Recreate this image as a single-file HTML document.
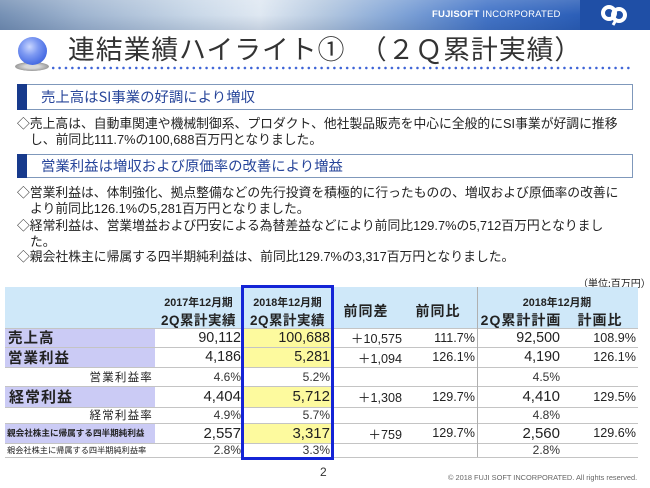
<!DOCTYPE html>
<html><head><meta charset="utf-8">
<style>
*{margin:0;padding:0;box-sizing:border-box}
body{width:650px;height:488px;overflow:hidden;background:#fff;position:relative;font-family:"Liberation Sans","Noto Sans CJK JP",sans-serif;color:#222}
.a{position:absolute}
.banner{left:0;top:0;width:650px;height:30px;background:linear-gradient(90deg,#7590b4 0%,#9db3cf 12%,#c9d8e8 30%,#dfe8f2 40%,#b4c8e0 50%,#7ea2d6 62%,#4475c8 75%,#2c5fb8 89%)}
.banner2{left:0;top:0;width:580px;height:30px;background:linear-gradient(180deg,rgba(255,255,255,0.15),rgba(255,255,255,0) 50%,rgba(0,30,80,0.12))}
.logobox{left:580px;top:0;width:70px;height:30px;background:#1f4fa6}
.fuji{left:432px;top:9px;font-size:9.5px;color:#fff;letter-spacing:0.2px;white-space:nowrap}
.title{left:68px;top:30px;font-size:26.8px;line-height:36px;color:#333;white-space:nowrap;font-family:"Noto Sans CJK JP",sans-serif;font-weight:400;letter-spacing:1px}
.dots{left:50px;top:66px;width:582px;height:4px;background-image:radial-gradient(circle,#3d63d6 1.1px,transparent 1.5px);background-size:6.4px 4px}
.box{left:17px;width:616px;border:1px solid #7f98bb;background:#fff}
.bar{left:17px;width:10px;background:#173a8c}
.sh{left:41px;font-size:14.4px;color:#27459a;white-space:nowrap;font-family:"Noto Sans CJK JP",sans-serif}
.tx{left:17px;font-size:12.8px;color:#222;white-space:nowrap;line-height:16px;font-family:"Liberation Sans","Noto Sans CJK JP",sans-serif}
.cell{position:absolute;display:flex;align-items:center;white-space:nowrap}
.r{justify-content:flex-end}
.c{justify-content:center}
.big{font-size:14.3px}
.mid{font-size:12.6px}
.pct{font-size:12px;color:#333}
.lab{font-family:"Noto Sans CJK JP",sans-serif;font-weight:700;font-size:14.5px;letter-spacing:1px}
.rl{font-family:"Noto Sans CJK JP",sans-serif;font-size:11.5px;letter-spacing:1.2px}
.hl{position:absolute;left:5px;width:633px;height:1px;background:#c4c4c4}
</style></head><body>
<div class="a banner"></div>
<div class="a banner2"></div>
<div class="a logobox"></div>
<div class="a fuji"><b>FUJISOFT</b> INCORPORATED</div>
<svg class="a" style="left:600px;top:4px" width="28" height="22" viewBox="0 0 28 22">
<circle cx="9" cy="9" r="6" fill="none" stroke="#fff" stroke-width="4"/>
<circle cx="19" cy="11" r="6" fill="none" stroke="#fff" stroke-width="4"/>
<path d="M16 16 L13 21" stroke="#fff" stroke-width="3"/>
</svg>

<!-- title bullet -->
<div class="a" style="left:15px;top:62px;width:34px;height:9px;border-radius:50%;background:radial-gradient(ellipse,#d8d8d8 30%,#9a9a9a 70%,transparent 72%)"></div>
<div class="a" style="left:18px;top:37px;width:29px;height:28px;border-radius:50%;background:radial-gradient(circle at 40% 35%,#c9d6ff 0%,#7d99f2 35%,#4a6ee4 70%,#2f52c8 100%)"></div>
<div class="a title">連結業績ハイライト①　（２Ｑ累計実績）</div>
<div class="a dots"></div>

<!-- section 1 -->
<div class="a box" style="top:84px;height:26px"></div>
<div class="a bar" style="top:84px;height:26px"></div>
<div class="a sh" style="top:86px;line-height:22px">売上高はSI事業の好調により増収</div>
<div class="a tx" style="top:116px">◇売上高は、自動車関連や機械制御系、プロダクト、他社製品販売を中心に全般的にSI事業が好調に推移</div>
<div class="a tx" style="top:132px;left:30px">し、前同比111.7%の100,688百万円となりました。</div>

<!-- section 2 -->
<div class="a box" style="top:154px;height:24px"></div>
<div class="a bar" style="top:154px;height:24px"></div>
<div class="a sh" style="top:155px;line-height:22px">営業利益は増収および原価率の改善により増益</div>
<div class="a tx" style="top:185px">◇営業利益は、体制強化、拠点整備などの先行投資を積極的に行ったものの、増収および原価率の改善に</div>
<div class="a tx" style="top:201px;left:30px">より前同比126.1%の5,281百万円となりました。</div>
<div class="a tx" style="top:218px">◇経常利益は、営業増益および円安による為替差益などにより前同比129.7%の5,712百万円となりまし</div>
<div class="a tx" style="top:234px;left:30px">た。</div>
<div class="a tx" style="top:249px">◇親会社株主に帰属する四半期純利益は、前同比129.7%の3,317百万円となりました。</div>

<div class="a" style="left:578px;top:275px;font-size:10px;white-space:nowrap;font-family:'Noto Sans CJK JP',sans-serif">（単位:百万円）</div>

<!-- table backgrounds -->
<div class="a" style="left:5px;top:287px;width:633px;height:41px;background:#cfe8f9"></div>
<div class="a" style="left:5px;top:328px;width:150px;height:39px;background:#cbcbf5"></div>
<div class="a" style="left:5px;top:386px;width:150px;height:21px;background:#cbcbf5"></div>
<div class="a" style="left:5px;top:423px;width:150px;height:20px;background:#cbcbf5"></div>
<div class="a" style="left:242px;top:328px;width:90px;height:39px;background:#fdfa9e"></div>
<div class="a" style="left:242px;top:386px;width:90px;height:21px;background:#fdfa9e"></div>
<div class="a" style="left:242px;top:423px;width:90px;height:20px;background:#fdfa9e"></div>

<div class="hl" style="top:328px"></div>
<div class="hl" style="top:347px"></div>
<div class="hl" style="top:367px"></div>
<div class="hl" style="top:386px"></div>
<div class="hl" style="top:407px"></div>
<div class="hl" style="top:423px"></div>
<div class="hl" style="top:443px"></div>
<div class="hl" style="top:457px"></div>
<div class="a" style="left:477px;top:287px;width:1px;height:170px;background:#b0b0b0"></div>

<!-- header text -->
<div class="cell c" style="left:155px;top:294px;width:87px;height:16px;font-size:10.8px;font-weight:700;font-family:'Liberation Sans','Noto Sans CJK JP',sans-serif">2017年12月期</div>
<div class="cell c" style="left:155px;top:310px;width:87px;height:18px;font-size:13.5px;font-weight:700;letter-spacing:0.5px">2Q累計実績</div>
<div class="cell c" style="left:244px;top:294px;width:87px;height:16px;font-size:10.8px;font-weight:700">2018年12月期</div>
<div class="cell c" style="left:244px;top:310px;width:87px;height:18px;font-size:13.5px;font-weight:700;letter-spacing:0.5px">2Q累計実績</div>
<div class="cell c" style="left:336px;top:302px;width:60px;height:18px;font-size:14px;font-weight:700;letter-spacing:1px">前同差</div>
<div class="cell c" style="left:408px;top:302px;width:60px;height:18px;font-size:14px;font-weight:700;letter-spacing:1px">前同比</div>
<div class="cell c" style="left:500px;top:294px;width:114px;height:16px;font-size:10.8px;font-weight:700">2018年12月期</div>
<div class="cell c" style="left:478px;top:311px;width:86px;height:18px;font-size:14px;font-weight:700;letter-spacing:1px">2Q累計計画</div>
<div class="cell c" style="left:570px;top:311px;width:60px;height:18px;font-size:14px;font-weight:700;letter-spacing:1px">計画比</div>

<!-- row labels -->
<div class="cell lab" style="left:8px;top:328px;height:19px">売上高</div>
<div class="cell lab" style="left:8px;top:347px;height:20px">営業利益</div>
<div class="cell rl r" style="left:8px;top:367px;width:145px;height:19px">営業利益率</div>
<div class="cell lab" style="left:9px;top:386px;height:21px;font-size:15px">経常利益</div>
<div class="cell rl r" style="left:8px;top:407px;width:145px;height:16px">経常利益率</div>
<div class="cell" style="left:7px;top:423px;height:20px;font-size:8.6px;font-weight:700;font-family:'Noto Sans CJK JP',sans-serif">親会社株主に帰属する四半期純利益</div>
<div class="cell" style="left:7px;top:443px;height:14px;font-size:8.2px;font-family:'Noto Sans CJK JP',sans-serif">親会社株主に帰属する四半期純利益率</div>

<!-- row 1 -->
<div class="cell r big" style="left:155px;top:328px;width:86px;height:19px">90,112</div>
<div class="cell r big" style="left:244px;top:328px;width:86px;height:19px">100,688</div>
<div class="cell r mid" style="left:335px;top:328px;width:67px;height:19px">＋10,575</div>
<div class="cell r mid" style="left:405px;top:328px;width:70px;height:19px">111.7%</div>
<div class="cell r big" style="left:480px;top:328px;width:80px;height:19px">92,500</div>
<div class="cell r mid" style="left:565px;top:328px;width:71px;height:19px">108.9%</div>
<!-- row 2 -->
<div class="cell r big" style="left:155px;top:347px;width:86px;height:20px">4,186</div>
<div class="cell r big" style="left:244px;top:347px;width:86px;height:20px">5,281</div>
<div class="cell r mid" style="left:335px;top:347px;width:67px;height:20px">＋1,094</div>
<div class="cell r mid" style="left:405px;top:347px;width:70px;height:20px">126.1%</div>
<div class="cell r big" style="left:480px;top:347px;width:80px;height:20px">4,190</div>
<div class="cell r mid" style="left:565px;top:347px;width:71px;height:20px">126.1%</div>
<!-- row 3 -->
<div class="cell r pct" style="left:155px;top:367px;width:86px;height:19px">4.6%</div>
<div class="cell r pct" style="left:244px;top:367px;width:86px;height:19px">5.2%</div>
<div class="cell r pct" style="left:480px;top:367px;width:80px;height:19px">4.5%</div>
<!-- row 4 -->
<div class="cell r big" style="left:155px;top:386px;width:86px;height:21px;font-size:15px">4,404</div>
<div class="cell r big" style="left:244px;top:386px;width:86px;height:21px;font-size:15px">5,712</div>
<div class="cell r mid" style="left:335px;top:386px;width:67px;height:21px">＋1,308</div>
<div class="cell r mid" style="left:405px;top:386px;width:70px;height:21px">129.7%</div>
<div class="cell r big" style="left:480px;top:386px;width:80px;height:21px;font-size:15px">4,410</div>
<div class="cell r mid" style="left:565px;top:386px;width:71px;height:21px">129.5%</div>
<!-- row 5 -->
<div class="cell r pct" style="left:155px;top:407px;width:86px;height:16px">4.9%</div>
<div class="cell r pct" style="left:244px;top:407px;width:86px;height:16px">5.7%</div>
<div class="cell r pct" style="left:480px;top:407px;width:80px;height:16px">4.8%</div>
<!-- row 6 -->
<div class="cell r big" style="left:155px;top:423px;width:86px;height:20px;font-size:15px">2,557</div>
<div class="cell r big" style="left:244px;top:423px;width:86px;height:20px;font-size:15px">3,317</div>
<div class="cell r mid" style="left:335px;top:423px;width:67px;height:20px">＋759</div>
<div class="cell r mid" style="left:405px;top:423px;width:70px;height:20px">129.7%</div>
<div class="cell r big" style="left:480px;top:423px;width:80px;height:20px;font-size:15px">2,560</div>
<div class="cell r mid" style="left:565px;top:423px;width:71px;height:20px">129.6%</div>
<!-- row 7 -->
<div class="cell r pct" style="left:155px;top:443px;width:86px;height:14px">2.8%</div>
<div class="cell r pct" style="left:244px;top:443px;width:86px;height:14px">3.3%</div>
<div class="cell r pct" style="left:480px;top:443px;width:80px;height:14px">2.8%</div>

<!-- blue highlight box -->
<div class="a" style="left:241px;top:285px;width:93px;height:175px;border:3px solid #1424d6"></div>

<div class="a" style="left:320px;top:465px;font-size:12px;color:#333">2</div>
<div class="a" style="left:448px;top:473px;font-size:7.4px;color:#666;white-space:nowrap">© 2018 FUJI SOFT INCORPORATED. All rights reserved.</div>
</body></html>
